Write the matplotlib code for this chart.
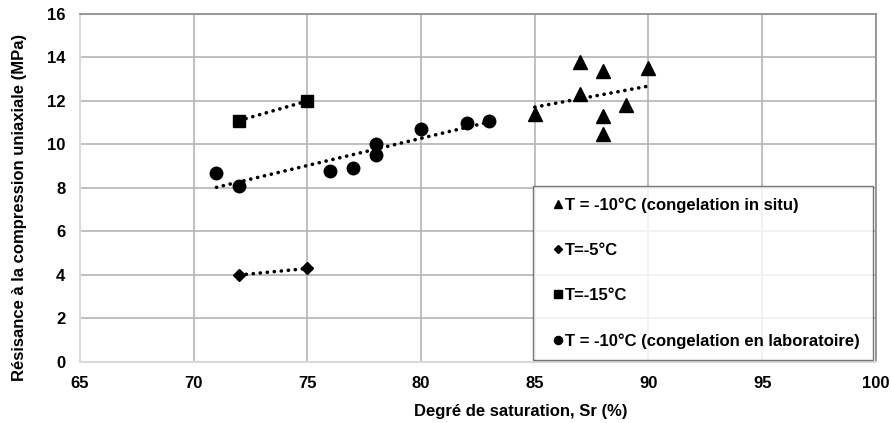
import numpy as np
import matplotlib
matplotlib.use("Agg")
import matplotlib.pyplot as plt

plt.rcParams['font.family'] = ['Liberation Sans', 'DejaVu Sans']
plt.rcParams['font.weight'] = 'bold'

tri_x = [85, 87, 87, 88, 88, 88, 89, 90]
tri_y = [11.4, 13.8, 12.3, 13.4, 11.3, 10.5, 11.8, 13.5]
dia_x = [72, 75]
dia_y = [4.0, 4.3]
sq_x = [72, 75]
sq_y = [11.1, 12.0]
circ_x = [71, 72, 76, 77, 78, 78, 80, 82, 83]
circ_y = [8.7, 8.1, 8.8, 8.9, 10.0, 9.5, 10.7, 11.0, 11.1]

labels = ["T = -10°C (congelation in situ)", "T=-5°C", "T=-15°C",
          "T = -10°C (congelation en laboratoire)"]

fig = plt.figure(figsize=(8.91, 4.23), dpi=100)
ax = fig.add_axes([0.0898, 0.1442, 0.8932, 0.8228])

series = [(tri_x, tri_y, '^', 9.5), (dia_x, dia_y, 'D', 6.5),
          (sq_x, sq_y, 's', 8.5), (circ_x, circ_y, 'o', 9)]
for (xs, ys, m, ms), lab in zip(series, labels):
    xs = np.array(xs, float); ys = np.array(ys, float)
    k, b = np.polyfit(xs, ys, 1)
    xx = np.array([xs.min(), xs.max()])
    ax.plot(xx, k * xx + b, color='black', lw=2.6, ls=(0, (0.05, 1.9)),
            dash_capstyle='round', zorder=2)
    ax.plot(xs, ys, ls='none', marker=m, ms=ms, color='black', label=lab, zorder=3)

ax.set_xlim(65, 100)
ax.set_ylim(0, 16)
ax.set_xticks(np.arange(65, 101, 5))
ax.set_yticks(np.arange(0, 17, 2))
ax.grid(True, color='#b4b4b4', lw=1.2)
ax.set_axisbelow(True)
for s in ['left', 'bottom']:
    ax.spines[s].set_color('#d9d9d9')
    ax.spines[s].set_linewidth(1.5)
for s in ['top', 'right']:
    ax.spines[s].set_color('#8c8c8c')
    ax.spines[s].set_linewidth(1.2)
ax.tick_params(axis='y', length=0, labelsize=12, pad=10.5)
ax.tick_params(axis='x', length=0, labelsize=12, pad=10)
for t in ax.get_xticklabels() + ax.get_yticklabels():
    t.set_fontweight('bold')
ax.set_xlabel("Degré de saturation, Sr (%)", fontsize=12, fontweight='bold')
ax.set_ylabel("Résisance à la compression uniaxiale (MPa)", fontsize=12,
              fontweight='bold')
ax.xaxis.set_label_coords(0.554, -0.122)
ax.yaxis.set_label_coords(-0.066, 0.445)

leg = ax.legend(loc='upper left', bbox_to_anchor=(0.569, 0.0, 0.427, 0.5057),
                mode='expand', frameon=True, fancybox=False, markerscale=0.65,
                handlelength=1.6, handletextpad=-0.35, labelspacing=1.8,
                borderpad=0.7, borderaxespad=0,
                prop={'size': 12, 'weight': 'bold'})
leg.get_frame().set_edgecolor('#555555')
leg.get_frame().set_linewidth(1.0)

fig.savefig("out.png", dpi=100)
